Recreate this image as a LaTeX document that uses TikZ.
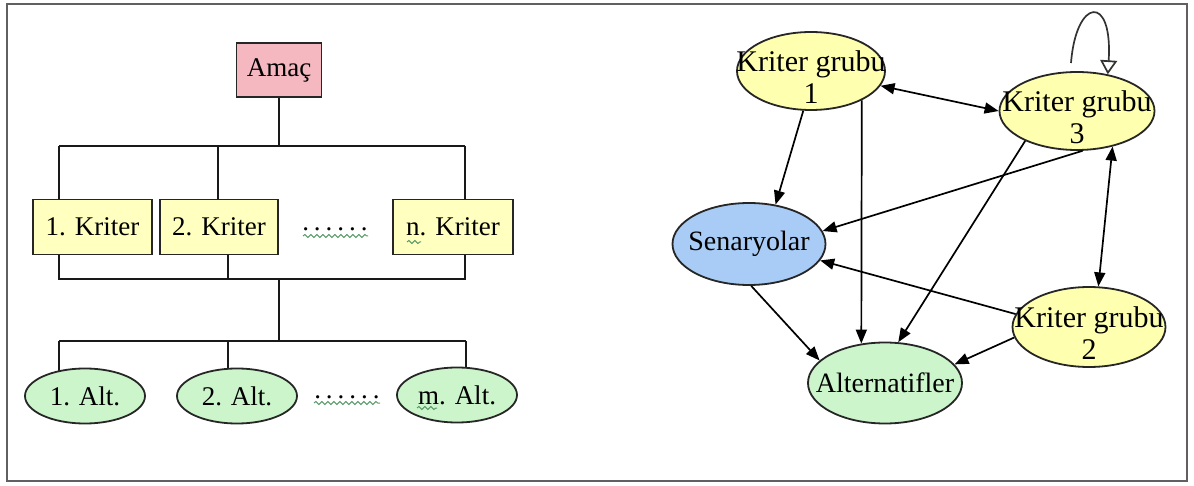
\documentclass[tikz,border=0pt]{standalone}
\usepackage{fontspec}
\setmainfont{Liberation Serif}
\usetikzlibrary{arrows.meta,shapes.geometric,decorations.pathmorphing,backgrounds}
\definecolor{pinkfill}{HTML}{F6B8C0}
\definecolor{boxyellow}{HTML}{FFFFC0}
\definecolor{kgyellow}{HTML}{FFFFB0}
\definecolor{greenfill}{HTML}{CCF5CC}
\definecolor{bluefill}{HTML}{A8CCF5}
\definecolor{framegray}{HTML}{606060}
\definecolor{wavegreen}{HTML}{5A9A6A}
\newcommand{\lowtxt}[2][16pt]{\makebox[0pt]{\raisebox{-#1}[0pt][0pt]{\begin{tabular}{@{}c@{}}#2\end{tabular}}}}
\newcommand{\zw}[1]{\makebox[0pt]{#1}}
\begin{document}
\begin{tikzpicture}[x=1pt,y=-1pt,
  box/.style={draw=black!85,line width=1.8pt,rectangle,inner sep=0pt,
    font=\fontsize{27}{30}\selectfont},
  altell/.style={draw=black!85,line width=1.8pt,ellipse,inner sep=0pt,fill=greenfill,
    minimum width=120pt,minimum height=55pt,font=\fontsize{27}{30}\selectfont},
  gell/.style={draw=black!85,line width=1.8pt,ellipse,inner sep=0pt,
    font=\fontsize{28}{32}\selectfont},
  kgfont/.style={font=\fontsize{30}{32}\selectfont},
  tree/.style={draw=black!90,line width=2pt},
  arr/.style={draw=black,line width=1.7pt,-{Triangle[length=14pt,width=11pt]}},
  both/.style={draw=black,line width=1.7pt,{Triangle[length=14pt,width=11pt]}-{Triangle[length=14pt,width=11pt]}},
  loopy/.style={draw=black!80,line width=1.7pt,-{Triangle[open,length=14pt,width=17pt]}},
  wavy/.style={draw=wavegreen,line width=1pt,decorate,decoration={snake,amplitude=1.5pt,segment length=6pt}},
  dotsty/.style={font=\fontsize{27}{30}\selectfont,inner sep=0pt,anchor=base}]
\useasboundingbox (0,0) rectangle (1194,486);

% ---- left tree ----
\node[box,fill=pinkfill,minimum width=85pt,minimum height=54pt] (amac) at (279,70) {Amaç};
\node[box,fill=boxyellow,minimum width=119pt,minimum height=55pt] (k1) at (92.5,227) {1. Kriter};
\node[box,fill=boxyellow,minimum width=118pt,minimum height=55pt] (k2) at (219,227) {2. Kriter};
\node[box,fill=boxyellow,minimum width=120pt,minimum height=55pt] (kn) at (453,227) {n. Kriter};
\node[dotsty] (dots1) at (335,231) {.\kern5pt.\kern5pt.\kern5pt.\kern5pt.\kern5pt.};
\node[altell] (a1) at (85,396) {\zw{1. Alt.}};
\node[altell] (a2) at (237,396) {\zw{2. Alt.}};
\node[altell] (am) at (457,395) {\zw{m. Alt.}};
\node[dotsty] (dots2) at (347,398) {.\kern5pt.\kern5pt.\kern5pt.\kern5pt.\kern5pt.};

\draw[wavy] (303,236) -- (368,236);
\draw[wavy] (314,403) -- (380,403);
\draw[wavy] (407,242) -- (421,242);
\draw[wavy] (417,408) -- (437,408);

\coordinate (b1) at (59,146);
\coordinate (b2) at (218,146);
\coordinate (b3) at (465,146);
\coordinate (c1) at (59,279);
\coordinate (c2) at (228,279);
\coordinate (c3) at (465,279);
\coordinate (e1) at (59,341);
\coordinate (e2) at (228,341);
\coordinate (e3) at (466,341);

% ---- right graph ----
\node[gell,kgfont,fill=kgyellow,minimum width=148pt,minimum height=78pt] (kg1) at (811,71) {\lowtxt{Kriter grubu\\1}};
\node[gell,kgfont,fill=kgyellow,minimum width=155pt,minimum height=78pt] (kg3) at (1077,111) {\lowtxt{Kriter grubu\\3}};
\node[gell,fill=bluefill,minimum width=153pt,minimum height=82pt] (sen) at (749,244) {\zw{Senaryolar}};
\node[gell,fill=greenfill,minimum width=154pt,minimum height=81pt] (alt) at (885,383) {\zw{Alternatifler}};
\node[gell,kgfont,fill=kgyellow,minimum width=153pt,minimum height=80pt] (kg2) at (1089,327) {\lowtxt{Kriter grubu\\2}};
\coordinate (ls) at (1071,63);

\begin{scope}[on background layer]
  \draw[framegray,line width=2.5pt] (7,4) rectangle (1187,481);
  \draw[tree] (amac.south) -- (amac.south |- b1);
  \draw[tree] (b1) -- (b3);
  \draw[tree] (b1) -- (b1 |- k1.north);
  \draw[tree] (b2) -- (b2 |- k2.north);
  \draw[tree] (b3) -- (b3 |- kn.north);
  \draw[tree] (c1 |- k1.south) -- (c1) -- (c3) -- (c3 |- kn.south);
  \draw[tree] (c2 |- k2.south) -- (c2);
  \draw[tree] (amac.south |- c1) -- (amac.south |- e1);
  \draw[tree] (e1) -- (e3);
  \draw[tree] (e1) -- (e1 |- a1.center);
  \draw[tree] (e2) -- (e2 |- a2.center);
  \draw[tree] (e3) -- (e3 |- am.center);
\end{scope}

\draw[both] (kg1.-12) -- (kg3.180);
\draw[arr] (kg1.259) -- (sen.56);
\draw[arr] (kg1.-30) -- (alt.121);
\draw[arr] (kg3.-82) -- (sen.10);
\draw[arr] (kg3.210) -- (alt.72);
\draw[both] (kg3.-45) -- (kg2.77);
\draw[arr] (kg2.170) -- (sen.-13);
\draw[arr] (kg2.188) -- (alt.15);
\draw[arr] (sen.-87) -- (alt.161);
\draw[loopy] (ls) .. controls (1076,-2) and (1113,-7) .. (kg3.50);
\end{tikzpicture}
\end{document}
